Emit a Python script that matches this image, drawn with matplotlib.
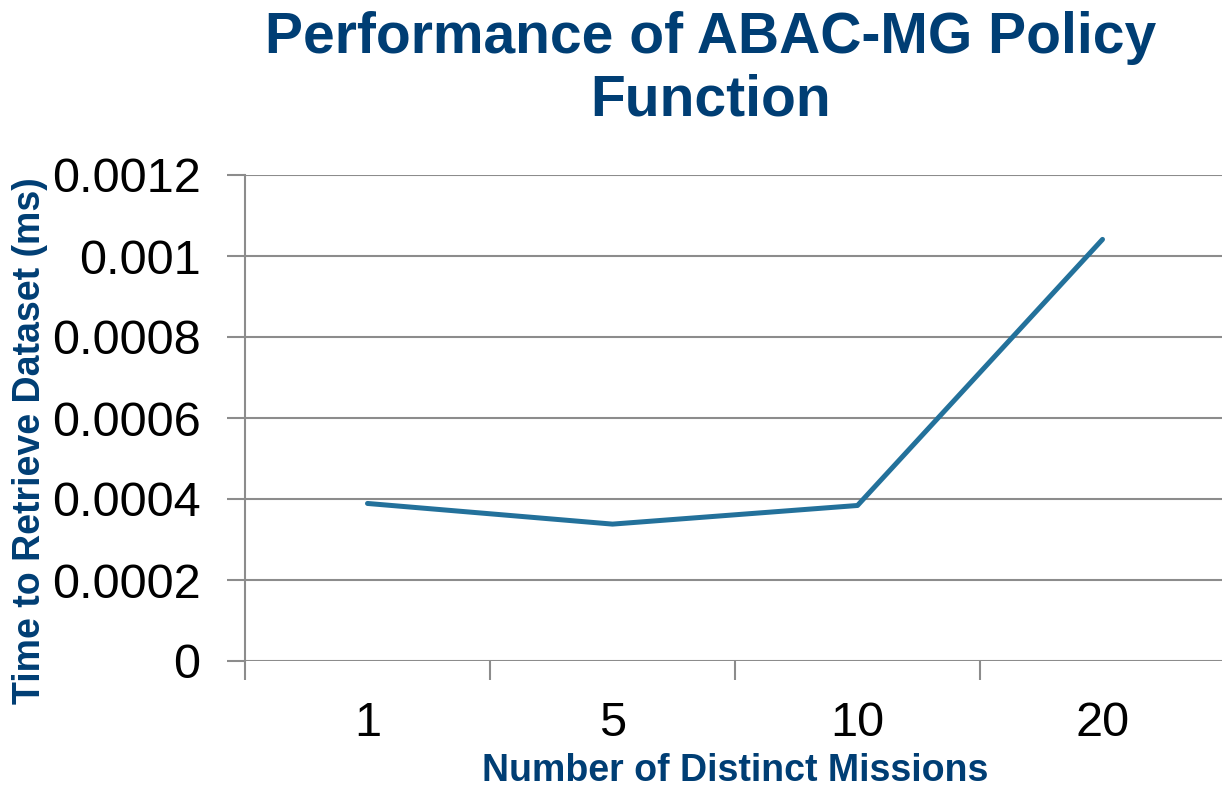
import numpy as np
import matplotlib.pyplot as plt

missions = ["1", "5", "10", "20"]
times_ms = [0.000389, 0.000338, 0.000384, 0.001041]
y_ticks = [0, 0.0002, 0.0004, 0.0006, 0.0008, 0.001, 0.0012]
y_tick_labels = ["0", "0.0002", "0.0004", "0.0006", "0.0008", "0.001", "0.0012"]

plt.rcParams['font.family'] = ['Liberation Sans', 'DejaVu Sans']

GRID = "#8c8c8c"
LINE = "#23719b"
NAVY = "#003e74"

W, H = 1222, 792
fig = plt.figure(figsize=(W / 100, H / 100), dpi=100)
ax = fig.add_axes([245 / W, (H - 661) / H, 980 / W, 486 / H])

x = np.arange(len(missions))
ax.plot(x, times_ms, color=LINE, linewidth=3.6, solid_capstyle="round",
        solid_joinstyle="round", zorder=3)

ax.set_xlim(-0.5, len(missions) - 0.5)
ax.set_ylim(0, 0.0012)

ax.set_yticks(y_ticks)
ax.set_yticklabels(y_tick_labels)
ax.yaxis.grid(True, color=GRID, linewidth=1.5)
ax.set_axisbelow(True)

# category boundaries as tick marks, labels centred between them
ax.set_xticks(np.arange(-0.5, len(missions)))
ax.set_xticklabels([])
ax.set_xticks(x, minor=True)
ax.set_xticklabels(missions, minor=True)
ax.tick_params(axis="x", which="major", length=14, width=1.5, color=GRID)
ax.tick_params(axis="x", which="minor", length=0, pad=29, labelsize=35)
ax.tick_params(axis="y", length=13, width=1.5, color=GRID, labelsize=35, pad=19)

for s in ["top", "right", "bottom"]:
    ax.spines[s].set_visible(False)
ax.spines["left"].set_color(GRID)
ax.spines["left"].set_linewidth(1.5)

ax.set_xlabel("Number of Distinct Missions", fontsize=27, fontweight="bold",
              color=NAVY, labelpad=5)
fig.text(30 / W, 1 - 441 / H, "Time to Retrieve Dataset (ms)", rotation=90,
         fontsize=27, fontweight="bold", color=NAVY, ha="center", va="center")

fig.text(711 / W, 1 - 69 / H, "Performance of ABAC-MG Policy\nFunction",
         fontsize=41, fontweight="bold", color=NAVY, ha="center", va="center",
         linespacing=1.2)

fig.savefig("out.png", dpi=100)
